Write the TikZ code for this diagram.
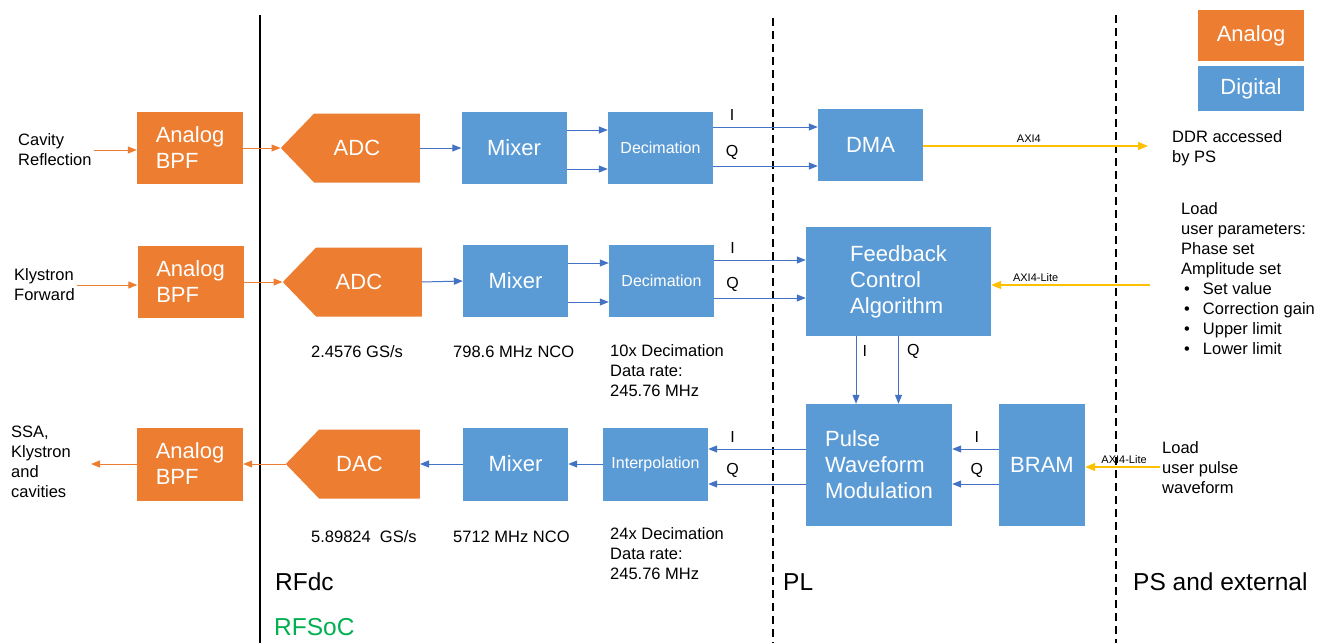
\documentclass[tikz,border=0pt]{standalone}
\usepackage{fontspec}
\setmainfont{Liberation Sans}
\usetikzlibrary{arrows.meta,shapes.symbols}

\definecolor{anaorange}{HTML}{ED7D31}
\definecolor{digblue}{HTML}{5B9BD5}
\definecolor{wireblue}{HTML}{4472C4}
\definecolor{axigold}{HTML}{FFC000}
\definecolor{socgreen}{HTML}{00B050}

\begin{document}
\begin{tikzpicture}[x=1pt, y=-1pt,
    analog/.style={fill=anaorange, text=white, minimum width=106pt, minimum height=72pt,
        inner sep=0pt, align=left, font=\fontsize{22}{26}\selectfont},
    digital/.style={fill=digblue, text=white, minimum width=105pt, minimum height=72pt,
        inner sep=0pt, align=left, font=\fontsize{22}{26}\selectfont},
    converter/.style={analog, shape=signal, signal to=west, signal pointer angle=92,
        minimum width=137pt, minimum height=69pt, anchor=east},
    note/.style={align=left, inner sep=2pt, font=\fontsize{16.5}{20}\selectfont},
    lbl/.style={inner sep=2pt, font=\fontsize{16}{18}\selectfont},
    bus/.style={inner sep=2pt, font=\fontsize{11}{13}\selectfont},
    section/.style={anchor=west, inner sep=0pt, font=\fontsize{24.5}{28}\selectfont},
    sig/.style={draw=wireblue, line width=1pt, -{Triangle[length=9pt,width=7pt]}},
    ana/.style={draw=anaorange, line width=1pt, -{Triangle[length=9pt,width=7pt]}},
    axi/.style={draw=axigold, line width=1.2pt, -{Triangle[length=10pt,width=8pt]}}]

    \useasboundingbox (0,0) rectangle (1325,643);

    % Domain borders
    \draw[line width=1.6pt] (260,15) -- (260,643);
    \draw[line width=1.6pt, dash pattern=on 8pt off 5pt] (773,18) -- (773,643);
    \draw[line width=1.6pt, dash pattern=on 8pt off 5pt] (1116,15) -- (1116,643);

    % Legend
    \node[analog, minimum height=51pt] (legA) at (1251,35.5) {Analog};
    \node[digital, minimum width=106pt, minimum height=45pt] (legD) at (1251,88.5) {Digital};

    % Cavity reflection path
    \node[note, anchor=west] (inA) at (16,150) {Cavity\\Reflection};
    \node[analog] (bpfA) at (190,148) {Analog\\BPF};
    \node[converter, minimum width=139pt] (adcA) at (420,148) {ADC\hspace*{20pt}};
    \node[digital] (mixA) at (514,148) {Mixer};
    \node[digital, font=\fontsize{16}{20}\selectfont] (decA) at (660.5,148) {Decimation};
    \node[digital] (dmaA) at (870.5,145) {DMA};
    \node[note, anchor=west] (ddrT) at (1170,148) {DDR accessed\\by PS};
    \coordinate (ddr) at (1148,146);

    \draw[ana] (inA.east) -- (inA.east -| bpfA.west);
    \draw[ana] (bpfA.east) -- (adcA.west);
    \draw[sig] (adcA.east) -- (mixA.west);
    \coordinate (mA1) at ([yshift=18pt]mixA.east);
    \coordinate (mA2) at ([yshift=-21pt]mixA.east);
    \draw[sig] (mA1) -- (mA1 -| decA.west);
    \draw[sig] (mA2) -- (mA2 -| decA.west);
    \coordinate (dA1) at ([yshift=21pt]decA.east);
    \coordinate (dA2) at ([yshift=-18pt]decA.east);
    \draw[sig] (dA1) -- (dA1 -| dmaA.west) node[lbl, pos=0.18, above=4pt] {I};
    \draw[sig] (dA2) -- (dA2 -| dmaA.west) node[lbl, pos=0.18, above=4pt] {Q};
    \draw[axi] (dmaA.east |- ddr) -- (ddr) node[bus, pos=0.47, above=1pt, text=black] {AXI4};

    % Klystron forward path
    \node[note, anchor=west] (inB) at (12,285) {Klystron\\Forward};
    \node[analog] (bpfB) at (190.5,282) {Analog\\BPF};
    \node[converter, minimum width=139pt] (adcB) at (422,282) {ADC\hspace*{20pt}};
    \node[digital] (mixB) at (515.5,281) {Mixer};
    \node[digital, font=\fontsize{16}{20}\selectfont] (decB) at (661.5,281) {Decimation};
    \node[digital, minimum width=185pt, minimum height=109pt] (fb) at (898.5,281.5)
        {Feedback\\Control\\Algorithm};
    \node[note, anchor=west] (parT) at (1179,278.5)
        {Load\\user parameters:\\Phase set\\Amplitude set\\
         \hspace*{3pt}\textbullet\hspace{13pt}Set value\\
         \hspace*{3pt}\textbullet\hspace{13pt}Correction gain\\
         \hspace*{3pt}\textbullet\hspace{13pt}Upper limit\\
         \hspace*{3pt}\textbullet\hspace{13pt}Lower limit};
    \coordinate (axB) at (1150,285);

    \draw[ana] (inB.east) -- (inB.east -| bpfB.west);
    \draw[ana] (bpfB.east) -- (adcB.west);
    \draw[sig] (adcB.east) -- (mixB.west);
    \coordinate (mB1) at ([yshift=18pt]mixB.east);
    \coordinate (mB2) at ([yshift=-21pt]mixB.east);
    \draw[sig] (mB1) -- (mB1 -| decB.west);
    \draw[sig] (mB2) -- (mB2 -| decB.west);
    \coordinate (dB1) at ([yshift=21pt]decB.east);
    \coordinate (dB2) at ([yshift=-17pt]decB.east);
    \draw[sig] (dB1) -- (dB1 -| fb.west) node[lbl, pos=0.2, above=4pt] {I};
    \draw[sig] (dB2) -- (dB2 -| fb.west) node[lbl, pos=0.2, above=4pt] {Q};
    \draw[axi] (axB) -- (axB -| fb.east) node[bus, pos=0.72, above=1pt, text=black] {AXI4-Lite};

    \node[note, anchor=west] (rateB) at (309,352) {2.4576 GS/s};
    \node[note, anchor=west] (ncoB) at (451,352) {798.6 MHz NCO};
    \node[note, anchor=west] (ddcB) at (608,371) {10x Decimation\\Data rate:\\245.76 MHz};

    % Drive path
    \node[digital, minimum width=146pt, minimum height=122pt] (pwm) at (879,465)
        {Pulse\\Waveform\\Modulation};
    \node[digital, minimum width=86pt, minimum height=122pt] (bram) at (1042,465) {BRAM};
    \node[digital, font=\fontsize{16}{20}\selectfont, minimum height=73pt] (intC) at (655.5,464) {Interpolation};
    \node[digital, minimum height=73pt] (mixC) at (515.5,464) {Mixer};
    \node[converter, minimum width=134pt] (dacC) at (420,464) {DAC\hspace*{20pt}};
    \node[analog, minimum height=73pt] (bpfC) at (190,464) {Analog\\BPF};
    \node[note, anchor=west] (outT) at (9,462) {SSA,\\Klystron\\and\\cavities};
    \node[note, anchor=west] (pulT) at (1160,468) {Load\\user pulse\\waveform};
    \coordinate (outC) at (91,464);
    \coordinate (axC) at (1160,467);

    \coordinate (f1) at ([xshift=-42.5pt]fb.south);
    \coordinate (f2) at (fb.south);
    \draw[sig] (f1) -- (f1 |- pwm.north) node[lbl, pos=0.22, right=4pt] {I};
    \draw[sig] (f2) -- (f2 |- pwm.north) node[lbl, pos=0.22, right=6pt] {Q};

    \coordinate (b1) at ([yshift=16pt]bram.west);
    \coordinate (b2) at ([yshift=-19pt]bram.west);
    \draw[sig] (b1) -- (b1 -| pwm.east) node[lbl, pos=0.47, above=4pt] {I};
    \draw[sig] (b2) -- (b2 -| pwm.east) node[lbl, pos=0.47, above=4pt] {Q};
    \coordinate (p1) at ([yshift=16pt]pwm.west);
    \coordinate (p2) at ([yshift=-19pt]pwm.west);
    \draw[sig] (p1) -- (p1 -| intC.east) node[lbl, pos=0.75, above=4pt] {I};
    \draw[sig] (p2) -- (p2 -| intC.east) node[lbl, pos=0.75, above=4pt] {Q};
    \draw[axi] (axC) -- (axC -| bram.east) node[bus, pos=0.48, above=1pt, text=black] {AXI4-Lite};

    \draw[sig] (intC.west) -- (mixC.east);
    \draw[sig] (mixC.west) -- (dacC.east);
    \draw[ana] (dacC.west) -- (bpfC.east);
    \draw[ana] (bpfC.west) -- (outC);

    \node[note, anchor=west] (rateC) at (309,537) {5.89824\ \ GS/s};
    \node[note, anchor=west] (ncoC) at (451,537) {5712 MHz NCO};
    \node[note, anchor=west] (ducC) at (608,554) {24x Decimation\\Data rate:\\245.76 MHz};

    % Sections
    \node[section] (rfdc) at (275,582) {RFdc};
    \node[section, text=socgreen] (rfsoc) at (274,627) {RFSoC};
    \node[section] (pl) at (783,582) {PL};
    \node[section] (ps) at (1133,582) {PS and external};

\end{tikzpicture}
\end{document}
